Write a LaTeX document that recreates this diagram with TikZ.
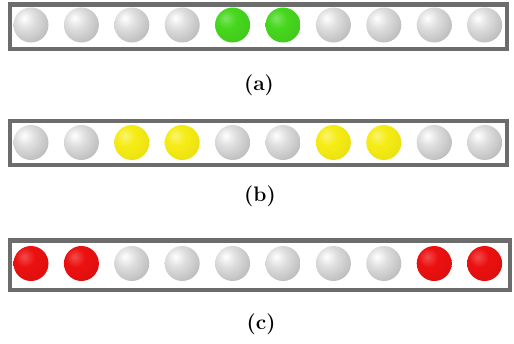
\documentclass[tikz,border=0pt]{standalone}
\usepackage{tikz}
\usetikzlibrary{positioning}
\definecolor{beadgrey}{RGB}{214,214,214}
\definecolor{beadgreen}{RGB}{70,215,30}
\definecolor{beadyellow}{RGB}{246,236,20}
\definecolor{beadred}{RGB}{236,16,16}
\pgfdeclareradialshading{greyshade}{\pgfpoint{-10bp}{10bp}}{color(0bp)=(white); color(14bp)=(beadgrey!80!white); color(38bp)=(beadgrey!85!black); color(52bp)=(beadgrey!70!black); color(64bp)=(beadgrey!80!black); color(100bp)=(beadgrey!80!black)}
\pgfdeclareradialshading{greenshade}{\pgfpoint{-10bp}{10bp}}{color(0bp)=(beadgreen!70!white); color(14bp)=(beadgreen); color(40bp)=(beadgreen!92!black); color(64bp)=(beadgreen!78!black); color(100bp)=(beadgreen!78!black)}
\pgfdeclareradialshading{yellowshade}{\pgfpoint{-10bp}{10bp}}{color(0bp)=(beadyellow!60!white); color(14bp)=(beadyellow); color(40bp)=(beadyellow!94!black); color(64bp)=(beadyellow!82!black); color(100bp)=(beadyellow!82!black)}
\pgfdeclareradialshading{redshade}{\pgfpoint{-10bp}{10bp}}{color(0bp)=(beadred!75!white); color(14bp)=(beadred); color(40bp)=(beadred!92!black); color(64bp)=(beadred!78!black); color(100bp)=(beadred!78!black)}
\tikzset{
  frame/.style={draw=gray!85!black, line width=4.5pt},
  bead/.style={circle, minimum size=35pt, inner sep=0pt},
  greyball/.style={bead, shading=greyshade},
  greenball/.style={bead, shading=greenshade},
  yellowball/.style={bead, shading=yellowshade},
  redball/.style={bead, shading=redshade},
  lbl/.style={font=\bfseries\fontsize{21}{25}\selectfont}
}

\begin{document}
\begin{tikzpicture}[x=1pt, y=-1pt]
	\useasboundingbox (0,0) rectangle (514,343);
	% row (a)
	\draw[frame] (10,4.5) rectangle (507,49);
	\foreach \st [count=\i from 0] in {greyball,greyball,greyball,greyball,greenball,greenball,greyball,greyball,greyball,greyball}
		\node[\st] (a\i) at ({31+50.4*\i},25) {};
	\node[lbl] (lbla) at (259,85) {(a)};
	% row (b)
	\draw[frame] (10,121) rectangle (507,165);
	\foreach \st [count=\i from 0] in {greyball,greyball,yellowball,yellowball,greyball,greyball,yellowball,yellowball,greyball,greyball}
		\node[\st] (b\i) at ({31+50.4*\i},142.5) {};
	\node[lbl] (lblb) at (260,196.5) {(b)};
	% row (c)
	\draw[frame] (10,240.5) rectangle (510,290);
	\foreach \st [count=\i from 0] in {redball,redball,greyball,greyball,greyball,greyball,greyball,greyball,redball,redball}
		\node[\st] (c\i) at ({31+50.4*\i},263.5) {};
	\node[lbl] (lblc) at (261,324) {(c)};
\end{tikzpicture}
\end{document}
